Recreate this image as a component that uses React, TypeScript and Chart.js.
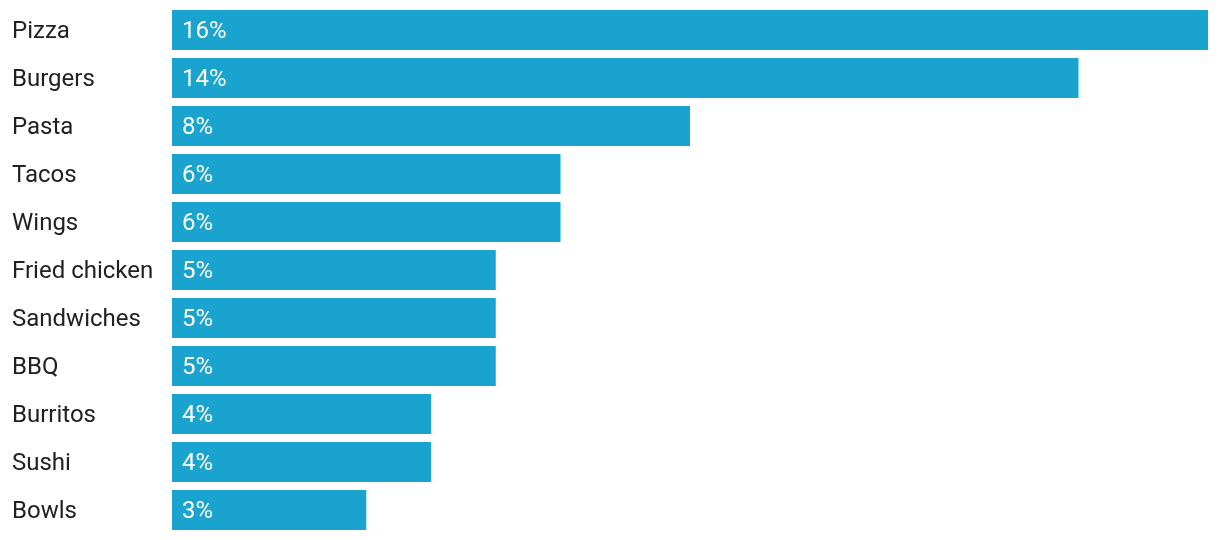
import React, { useEffect, useRef } from "react";
import { Chart, registerables } from "chart.js";

Chart.register(...registerables);

const categories = [
  "Pizza",
  "Burgers",
  "Pasta",
  "Tacos",
  "Wings",
  "Fried chicken",
  "Sandwiches",
  "BBQ",
  "Burritos",
  "Sushi",
  "Bowls",
];
const shares = [16, 14, 8, 6, 6, 5, 5, 5, 4, 4, 3];

const BAR_COLOR = "#1aa3cf";
const FONT = "Roboto";

const valueLabels = {
  id: "valueLabels",
  afterDatasetsDraw(chart: any) {
    const ctx = chart.ctx;
    const meta = chart.getDatasetMeta(0);
    ctx.save();
    ctx.fillStyle = "#ffffff";
    ctx.font = `24px ${FONT}`;
    ctx.textAlign = "left";
    ctx.textBaseline = "middle";
    meta.data.forEach((bar: any, i: number) => {
      const base = bar.base;
      ctx.fillText(`${shares[i]}%`, base + 10, bar.y + 2);
    });
    ctx.restore();
  },
};

export default function App() {
  const ref = useRef<HTMLCanvasElement | null>(null);
  useEffect(() => {
    document.body.style.margin = "0";
    const chart = new Chart(ref.current!, {
      type: "bar",
      data: {
        labels: categories,
        datasets: [
          {
            data: shares,
            backgroundColor: BAR_COLOR,
            borderWidth: 0,
            barPercentage: 40 / 48,
            categoryPercentage: 1,
          },
        ],
      },
      options: {
        indexAxis: "y",
        animation: false,
        responsive: false,
        maintainAspectRatio: false,
        layout: { padding: { left: 12, right: 12, top: 6, bottom: 6 } },
        plugins: {
          legend: { display: false },
          tooltip: { enabled: false },
        },
        scales: {
          x: {
            display: false,
            min: 0,
            max: 16,
          },
          y: {
            grid: { display: false },
            border: { display: false },
            afterFit(scale: any) {
              scale.width = 160;
              scale.paddingTop = 0;
              scale.paddingBottom = 0;
            },
            ticks: {
              crossAlign: "far",
              color: "#212121",
              font: { family: FONT, size: 24 },
              padding: 0,
              labelOffset: 2,
            },
          },
        },
      },
      plugins: [valueLabels],
    });
    return () => chart.destroy();
  }, []);
  return (
    <div style={{ width: 1220, height: 540 }}>
      <canvas ref={ref} width={1220} height={540} style={{ display: "block" }} />
    </div>
  );
}
